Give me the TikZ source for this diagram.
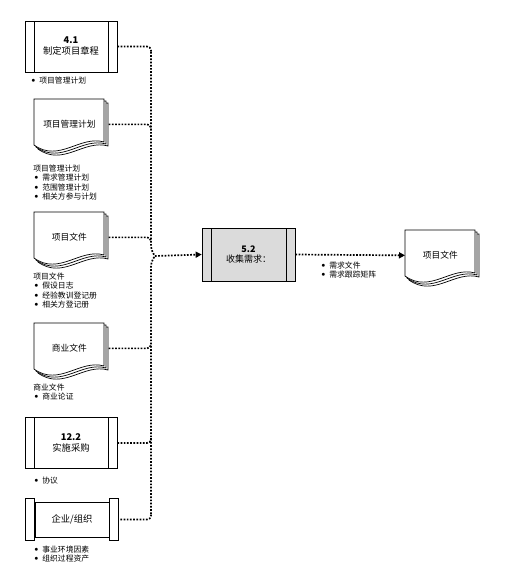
\documentclass[tikz,border=0pt]{standalone}
\usepackage{fontspec}
\setmainfont{Noto Sans CJK SC}
\usetikzlibrary{arrows.meta}
\newcommand\bul{\makebox[9pt][l]{\hspace{1pt}\raisebox{0.25ex}{\scriptsize$\bullet$}}}

\begin{document}
\begin{tikzpicture}[x=1pt, y=-1pt, line width=0.7pt,
	box/.style={draw, fill=white, align=center, inner sep=0pt,
		minimum width=92pt, minimum height=51pt, font=\fontsize{9.3}{11}\selectfont,
		path picture={
			\draw ([xshift=9pt]path picture bounding box.north west) -- ([xshift=9pt]path picture bounding box.south west);
			\draw ([xshift=-9pt]path picture bounding box.north east) -- ([xshift=-9pt]path picture bounding box.south east);}},
	docnode/.style={anchor=north west, inner sep=0pt, minimum width=70pt, minimum height=50pt,
		font=\fontsize{8.7}{10.5}\selectfont},
	docpage/.pic={\draw[fill=white] (0,0) -- (70,0) -- (70,43) .. controls (46,36) and (25,64) .. (0,46) -- cycle;},
	note/.style={anchor=north west, align=left, inner sep=0pt, font=\fontsize{7.8}{9.4}\selectfont},
	flow/.style={line width=1.7pt, dash pattern=on 1.7pt off 1.5pt, rounded corners=4pt}]
	\useasboundingbox (0, 0) rectangle (504, 573);

	\node[box] (charter) at (71, 46.5) {\textbf{4.1}\\制定项目章程};
	\node[note] at (30, 76.5) {\bul 项目管理计划};

	\foreach \d in {4, 2, 0} \pic at ({34+\d}, {99+\d}) {docpage};
	\node[docnode] (pmp) at (34, 99) {项目管理计划};
	\node[note] at (33, 164.5) {项目管理计划\\\bul 需求管理计划\\\bul 范围管理计划\\\bul 相关方参与计划};

	\foreach \d in {4, 2, 0} \pic at ({34+\d}, {212+\d}) {docpage};
	\node[docnode] (pdocs) at (34, 212) {项目文件};
	\node[note] at (33, 272.5) {项目文件\\\bul 假设日志\\\bul 经验教训登记册\\\bul 相关方登记册};

	\foreach \d in {4, 2, 0} \pic at ({34+\d}, {323+\d}) {docpage};
	\node[docnode] (bizdocs) at (34, 323) {商业文件};
	\node[note] at (33, 383.5) {商业文件\\\bul 商业论证};

	\node[box] (procure) at (71, 443) {\textbf{12.2}\\实施采购};
	\node[note] at (33, 476.5) {\bul 协议};

	\node[draw, fill=white, inner sep=0pt, minimum width=74pt, minimum height=35pt,
		font=\fontsize{9.3}{11}\selectfont] (eef) at (72, 519.5) {企业/组织};
	\draw[fill=white] ([yshift=3pt]eef.north west) rectangle ([xshift=-9pt, yshift=-3pt]eef.south west);
	\draw[fill=white] ([yshift=3pt]eef.north east) rectangle ([xshift=9pt, yshift=-3pt]eef.south east);
	\node[note] at (33, 545.5) {\bul 事业环境因素\\\bul 组织过程资产};

	\node[box, fill=black!14, minimum width=93pt, minimum height=53pt,
		font=\fontsize{9}{10.5}\selectfont] (collect) at (248.5, 254.5) {\textbf{5.2}\\收集需求：};

	\foreach \d in {4, 2, 0} \pic at ({405+\d}, {230+\d}) {docpage};
	\node[docnode] (reqdocs) at (405, 230) {项目文件};
	\node[note] at (320, 261.5) {\bul 需求文件\\\bul 需求跟踪矩阵};

	\coordinate (b1) at (151, 52);
	\coordinate (b2) at (151, 129);
	\coordinate (b3) at (151, 241);
	\coordinate (b4) at (151, 343);
	\coordinate (b5) at (151, 438);
	\coordinate (b6) at (151, 514);
	\coordinate (join) at (155, 256);

	\draw[flow] (charter.east) -| (b1);
	\draw[flow] ([xshift=4pt]pmp.east) -| (b2);
	\draw[flow] ([xshift=4pt]pdocs.east) -| (b3);
	\draw[flow] ([xshift=4pt]bizdocs.east) -| (b4);
	\draw[flow] (procure.east) -| (b5);
	\draw[flow] ([xshift=11pt]eef.east) -| (b6);
	\draw[flow] (b1) -- (151, 250) -- (join);
	\draw[flow] (b6) -- (151, 262) -- (join);
	\draw[flow, -{Triangle[length=6pt, width=6pt]}] (join) -- (collect.west);
	\draw[flow, -{Triangle[length=6pt, width=6pt]}] (collect.east) -- (reqdocs.west);
\end{tikzpicture}
\end{document}
